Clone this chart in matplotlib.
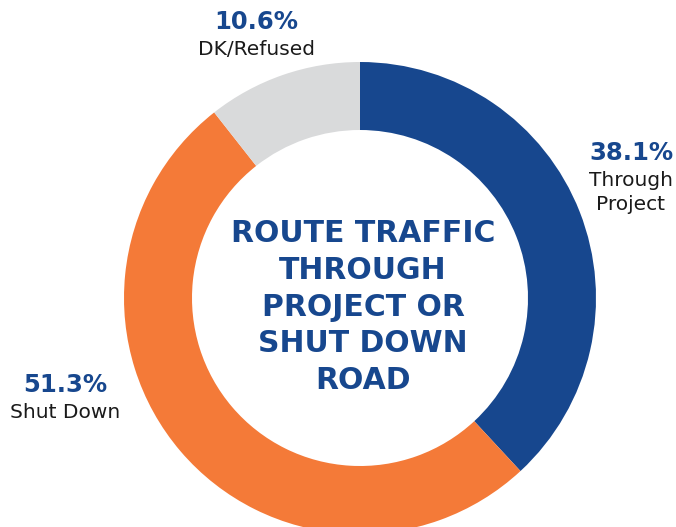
import matplotlib
matplotlib.use("Agg")
import matplotlib.pyplot as plt

plt.rcParams["font.family"]=["DejaVu Sans"]

# survey shares, clockwise from 12 o'clock
labels=["Through\nProject","Shut Down","DK/Refused"]
values=[38.1,51.3,10.6]
colors=["#17478E","#F47A38","#D9DADB"]
center_title="ROUTE TRAFFIC\nTHROUGH\nPROJECT OR\nSHUT DOWN\nROAD"

W,H=676,527
fig=plt.figure(figsize=(W/100,H/100),dpi=100)
ax=fig.add_axes([0,0,1,1])

cx,cy=360,H-298
r_out=236
ax.pie(values,colors=colors,startangle=90,counterclock=False,center=(cx,cy),radius=r_out,
       wedgeprops=dict(width=68,linewidth=0),frame=True)
ax.set_xlim(0,W)
ax.set_ylim(0,H)
ax.set_aspect("equal")
ax.axis("off")

blue="#17478E"
ax.text(cx+3,H-307,center_title,ha="center",va="center",color=blue,fontsize=21.5,
        fontweight="semibold",linespacing=1.34)

# value labels
pos=[(631,153),(65,385),(256,22)]
for lab,v,(x,y1) in zip(labels,values,pos):
    ax.text(x,H-y1,f"{v}%",ha="center",va="center",color=blue,fontsize=17.5,fontweight="bold")
    ax.text(x,H-(y1+18),lab,ha="center",va="top",color="#1a1a1a",fontsize=14.5,linespacing=1.3)

fig.savefig("out.png",dpi=100)
